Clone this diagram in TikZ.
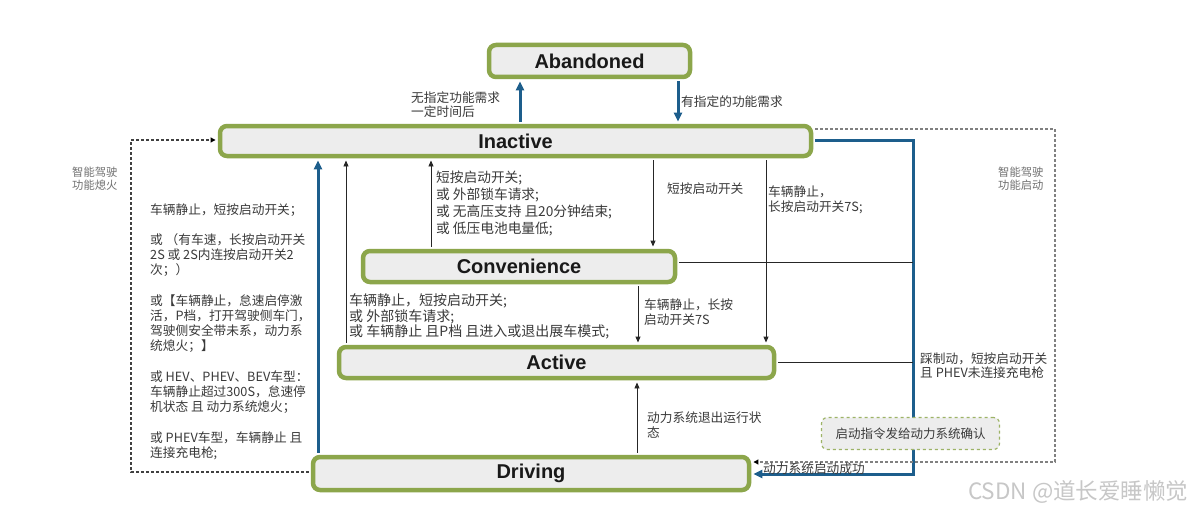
\documentclass[tikz,border=0pt]{standalone}
\usepackage{fontspec}
\setmainfont{Noto Sans CJK SC}
\newfontfamily\titlefont{Liberation Sans}
\usetikzlibrary{arrows.meta}
\definecolor{stgreen}{HTML}{8CA64B}
\definecolor{stfill}{HTML}{EDEDED}
\definecolor{stblue}{HTML}{1D5E8C}
\definecolor{lbl}{HTML}{3A3A3A}
\definecolor{lgray}{HTML}{707070}
\begin{document}
\begin{tikzpicture}[x=1pt,y=-1pt,
  state/.style={draw=stgreen, line width=4.5pt, rounded corners=7pt, fill=stfill, inner sep=0pt,
    font=\titlefont\bfseries\fontsize{20}{24}\selectfont, text=black!90},
  confirmbox/.style={draw=stgreen!85, dashed, line width=1.2pt, rounded corners=6pt, fill=stfill, inner sep=0pt,
    font=\fontsize{12.5}{15}\selectfont, text=lbl},
  lab/.style={inner sep=0pt, align=left, text=lbl, anchor=west},
  fs/.style={font=\fontsize{12.7}{#1}\selectfont},
  fsb/.style 2 args={font=\fontsize{#1}{#2}\selectfont},
  side/.style={inner sep=0pt, align=left, text=lgray, anchor=west, font=\fontsize{11.3}{13}\selectfont},
  bluearrow/.style={draw=stblue, line width=3pt, shorten >=2.2pt, shorten <=2.2pt, -{Triangle[length=9pt,width=8pt]}},
  thinarrow/.style={draw=black!85, line width=0.9pt, shorten >=2.2pt, shorten <=2.2pt, -{Triangle[length=6pt,width=5pt]}},
  thinline/.style={draw=black!85, line width=0.9pt, shorten <=2.2pt},
  dashr/.style={draw=black!50, line width=1.1pt, dash pattern=on 3pt off 2pt, shorten <=2.2pt, shorten >=2.2pt, -{Triangle[length=5pt,width=5pt,color=black]}},
  dashl/.style={draw=black!75, line width=1.1pt, dash pattern=on 3pt off 2pt, shorten <=2.2pt, shorten >=2.2pt, -{Triangle[length=5pt,width=5pt,color=black]}},
]
\useasboundingbox (0,0) rectangle (1200,511);
\fill[white] (0,0) rectangle (1200,511);

% states
\node[state, minimum width=201pt, minimum height=32pt] (aband) at (589.5,61) {Abandoned};
\node[state, minimum width=591pt, minimum height=30pt] (inact) at (515.5,141) {Inactive};
\node[state, minimum width=312pt, minimum height=31pt] (conv) at (519,266.5) {Convenience};
\node[state, minimum width=435pt, minimum height=31pt] (act) at (556.5,362.5) {Active};
\node[state, minimum width=436pt, minimum height=33pt] (drv) at (531,473.5) {Driving};

% junction coordinates
\coordinate (bjTop) at (913,140);
\coordinate (bjBot) at (913,474);
\coordinate (bjConv) at (913,262);
\coordinate (bjAct) at (913,362);
\coordinate (drTop) at (1055,129);
\coordinate (drBot) at (1055,462);
\coordinate (dlBot) at (131,472);
\coordinate (dlTop) at (131,140);

% blue transitions
\draw[bluearrow] (inact.north -| 520,0) -- (aband.south -| 520,0);
\draw[bluearrow] (aband.south -| 678,0) -- (inact.north -| 678,0);
\draw[bluearrow] (drv.north -| 318,0) -- (inact.south -| 318,0);
\draw[bluearrow] (inact.east |- bjTop) -- (bjTop) -- (bjBot) -- (drv.east |- bjBot);

% thin transitions
\draw[thinarrow] (act.north -| 346,0) -- (inact.south -| 346,0);
\draw[thinarrow] (conv.north -| 431,0) -- (inact.south -| 431,0);
\draw[thinarrow] (inact.south -| 653,0) -- (conv.north -| 653,0);
\draw[thinarrow] (inact.south -| 766,0) -- (act.north -| 766,0);
\draw[thinarrow] (conv.south -| 638,0) -- (act.north -| 638,0);
\draw[thinarrow] (drv.north -| 637,0) -- (act.south -| 637,0);
\draw[thinline] (conv.east |- bjConv) -- (bjConv);
\draw[thinline] (act.east |- bjAct) -- (bjAct);

% dashed transitions
\draw[dashr] (inact.east |- drTop) -- (drTop) -- (drBot) -- (drv.east |- drBot);
\draw[dashl] (drv.west |- dlBot) -- (dlBot) -- (dlTop) -- (inact.west |- dlTop);

% confirm box
\node[confirmbox, minimum width=178pt, minimum height=32pt] (conf) at (910.5,433.5) {启动指令发给动力系统确认};

% labels
\node[lab, fs=14] (l1) at (411,105) {无指定功能需求\\一定时间后};
\node[lab, fs=15] (l2) at (681,102) {有指定的功能需求};
\node[side] (l3) at (72,178.5) {智能驾驶\\功能熄火};
\node[side] (l4) at (998,178.5) {智能驾驶\\功能启动};
\node[lab, fs=15.2] (l5) at (150,331.5) {车辆静止，短按启动开关；\\[15.2pt]
或 （有车速，长按启动开关\\
2S 或 2S内连按启动开关2\\
次；）\\[15.2pt]
或【车辆静止，怠速启停激\\
活，P档，打开驾驶侧车门，\\
驾驶侧安全带未系，动力系\\
统熄火；】\\[15.2pt]
或 HEV、PHEV、BEV车型：\\
车辆静止超过300S，怠速停\\
机状态 且 动力系统熄火；\\[15.2pt]
或 PHEV车型，车辆静止 且\\
连接充电枪;};
\node[lab, fsb={13.7}{17}] (l6) at (436,203.5) {短按启动开关;\\或 外部锁车请求;\\或 无高压支持 且20分钟结束;\\或 低压电池电量低;};
\node[lab, fs=15] (l7) at (667,189) {短按启动开关};
\node[lab, fs=15] (l8) at (768,199.5) {车辆静止，\\长按启动开关7S;};
\node[lab, fs=14.5] (l9) at (644,312) {车辆静止，长按\\启动开关7S};
\node[lab, fsb={14}{13.8}] (l10) at (349,316.5) {车辆静止，短按启动开关;\\或 外部锁车请求;\\或 车辆静止 且P档 且进入或退出展车模式;};
\node[lab, fs=13.5] (l11) at (920,365.5) {踩制动，短按启动开关\\且 PHEV未连接充电枪};
\node[lab, fs=15] (l12) at (647,425.5) {动力系统退出运行状\\态};
\node[lab, fs=15] (l13) at (763,469) {动力系统启动成功};

% watermark
\node[inner sep=0pt, anchor=west, text=black!22, font=\fontsize{22.5}{26}\selectfont] (wm) at (968,492) {CSDN @道长爱睡懒觉};
\end{tikzpicture}
\end{document}
